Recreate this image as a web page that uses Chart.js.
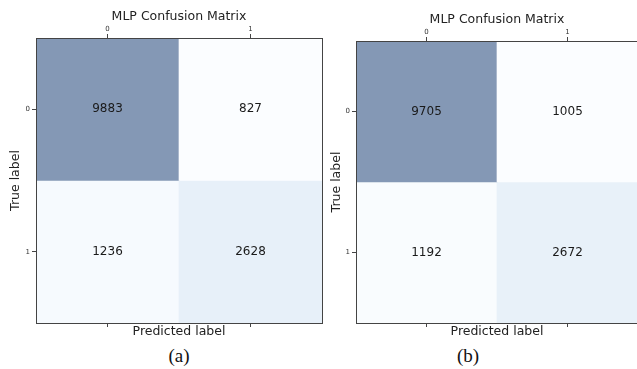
<!DOCTYPE html>
<html>
<head>
<meta charset="utf-8">
<script src="https://cdn.jsdelivr.net/npm/chart.js@4.4.0/dist/chart.umd.min.js"></script>
<style>
  body { margin: 0; background: #fff; width: 637px; height: 369px; overflow: hidden; position: relative; }
  canvas { position: absolute; top: 0; }
  .cap { position: absolute; top: 345px; font: 19px "Liberation Serif", "Times New Roman", serif; color: #111; transform: translateX(-50%); line-height: 22px; }
</style>
</head>
<body>
<canvas id="cmA" width="325" height="345" style="left:0"></canvas>
<canvas id="cmB" width="320" height="345" style="left:325px"></canvas>
<div class="cap" style="left:179px">(a)</div>
<div class="cap" style="left:468px">(b)</div>
<script>
// labels and values
const predLabels = ["0", "1"];
const trueLabels = ["0", "1"];
const cmA = [[9883, 827], [1236, 2628]];
const cmB = [[9705, 1005], [1192, 2672]];
const chartTitle = "MLP Confusion Matrix";

// matplotlib "Blues" stops, drawn at alpha 0.5 over white
const bluesStops = [
  [247, 251, 255], [222, 235, 247], [198, 219, 239], [158, 202, 225], [107, 174, 214],
  [66, 146, 198], [33, 113, 181], [8, 81, 156], [8, 48, 107]
];

function blues(t) {
  t = Math.min(1, Math.max(0, t));
  const p = t * (bluesStops.length - 1);
  const i = Math.min(Math.floor(p), bluesStops.length - 2);
  const f = p - i;
  const c = bluesStops[i].map((v, k) => v + (bluesStops[i + 1][k] - v) * f);
  // blend with white at 50%
  return "rgb(" + c.map(v => Math.round((v + 255) / 2)).join(",") + ")";
}

const cellText = {
  id: "cellText",
  afterDatasetsDraw(chart) {
    const ctx = chart.ctx;
    ctx.save();
    ctx.font = '12px "DejaVu Sans"';
    ctx.fillStyle = "#1a1a1a";
    ctx.textAlign = "center";
    ctx.textBaseline = "middle";
    chart.data.datasets.forEach((ds, i) => {
      chart.getDatasetMeta(i).data.forEach((bar, j) => {
        ctx.fillText(ds.counts[j], bar.x, (bar.y + bar.base) / 2);
      });
    });
    ctx.restore();
  }
};

function makeChart(id, cm, box) {
  const canvas = document.getElementById(id);
  const W = canvas.width, H = canvas.height;
  const all = cm.flat();
  const lo = Math.min(...all), hi = Math.max(...all);
  const nRows = cm.length;
  const titleSize = 12.5;
  const titleH = box.titleY - titleSize * 0.6;
  const axisColor = "#444";
  // spines drawn above the cells
  const spine = { color: axisColor, width: 1, z: 1 };

  const datasets = cm.map((row, r) => ({
    label: "true " + trueLabels[r],
    counts: row,
    data: row.map(() => [nRows - 1 - r, nRows - r]),
    backgroundColor: row.map(v => blues((v - lo) / (hi - lo))),
    borderWidth: 0,
    barPercentage: 1,
    categoryPercentage: 1
  }));

  return new Chart(canvas, {
    type: "bar",
    data: { labels: predLabels, datasets },
    plugins: [cellText],
    options: {
      responsive: false,
      animation: false,
      layout: { padding: { left: 0, top: 0, bottom: 0, right: W - box.right } },
      plugins: {
        legend: { display: false },
        tooltip: { enabled: false },
        title: {
          display: true,
          text: chartTitle,
          fullSize: false,
          color: "#222",
          font: { family: "DejaVu Sans", size: titleSize, weight: "normal" },
          padding: { top: titleH, bottom: 0 }
        }
      },
      scales: {
        x: {
          type: "category",
          position: "top",
          stacked: true,
          offset: true,
          grid: { drawOnChartArea: false, offset: false, tickLength: 4, color: axisColor },
          border: spine,
          ticks: { color: "#333", font: { family: "DejaVu Sans", size: 7 }, padding: 1, maxRotation: 0 },
          afterFit: s => { s.height = box.top - titleH - titleSize * 1.2; }
        },
        x2: {
          type: "category",
          position: "bottom",
          labels: predLabels,
          offset: true,
          grid: { drawOnChartArea: false, offset: false, tickLength: 4, color: axisColor },
          border: spine,
          ticks: { display: false },
          title: {
            display: true,
            text: "Predicted label",
            color: "#222",
            font: { family: "DejaVu Sans", size: 12.5 },
            padding: { top: 0, bottom: box.xTitlePad }
          },
          afterFit: s => { s.height = H - box.bottom; }
        },
        y: {
          type: "linear",
          min: 0,
          max: nRows,
          grid: { drawOnChartArea: false, tickLength: 4, color: axisColor },
          border: spine,
          afterBuildTicks: s => { s.ticks = trueLabels.map((_, r) => ({ value: nRows - r - 0.5 })); },
          ticks: {
            color: "#333",
            font: { family: "DejaVu Sans", size: 7 },
            padding: 2,
            callback: v => trueLabels[nRows - 1 - Math.floor(v)]
          },
          title: {
            display: true,
            text: "True label",
            color: "#222",
            font: { family: "DejaVu Sans", size: 12.5 },
            padding: { top: box.yTitlePad, bottom: 0 }
          },
          afterFit: s => { s.width = box.left; }
        },
        yr: {
          type: "linear",
          position: "right",
          min: 0,
          max: nRows,
          grid: { drawOnChartArea: false, drawTicks: false },
          border: spine,
          ticks: { display: false },
          afterFit: s => { s.width = 0; }
        }
      }
    }
  });
}

makeChart("cmA", cmA, { left: 36, top: 38, right: 322, bottom: 323, titleY: 17, xTitlePad: 5.5, yTitlePad: 8.5 });
makeChart("cmB", cmB, { left: 31, top: 41, right: 313, bottom: 323, titleY: 20, xTitlePad: 5.5, yTitlePad: 4.5 });
</script>
</body>
</html>
